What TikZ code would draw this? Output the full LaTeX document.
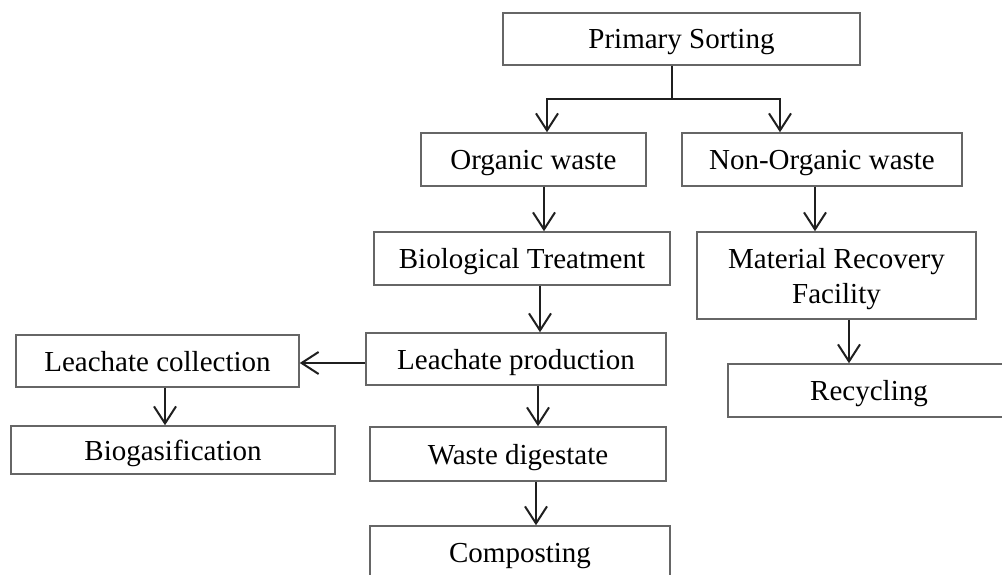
\documentclass[tikz,border=0pt]{standalone}
\usepackage{fontspec}
\setmainfont{Liberation Serif}
\usetikzlibrary{arrows.meta}
\begin{document}
\begin{tikzpicture}[x=1pt,y=-1pt,
  box/.style={draw=black!60, line width=1.5pt, inner sep=0pt, align=center,
    text depth=0pt, font=\fontsize{29}{35}\selectfont},
  arr/.style={line width=2pt, draw=black!88, -{Straight Barb[length=17pt,width=22pt]}},
  ln/.style={line width=2pt, draw=black!88}]
\useasboundingbox (0,0) rectangle (1002,575);
\clip (0,0) rectangle (1002,575);
\fill[white] (0,0) rectangle (1002,575);
\node[box, minimum width=357pt, minimum height=52pt] (ps) at (681.5,39) {Primary Sorting};
\node[box, minimum width=225pt, minimum height=53pt] (org) at (533.5,159.5) {Organic waste};
\node[box, minimum width=280pt, minimum height=53pt] (non) at (822,159.5) {Non-Organic waste};
\node[box, minimum width=296pt, minimum height=53pt] (bio) at (522,258.5) {Biological Treatment};
\node[box, minimum width=279pt, minimum height=87pt] (mrf) at (836.5,275.5) {Material Recovery\\Facility};
\node[box, minimum width=300pt, minimum height=52pt] (lp) at (516,359) {Leachate production};
\node[box, minimum width=283pt, minimum height=52pt] (lc) at (157.5,361) {Leachate collection};
\node[box, minimum width=282pt, minimum height=53pt] (rec) at (869,390.5) {Recycling};
\node[box, minimum width=324pt, minimum height=48pt] (bg) at (173,450) {Biogasification};
\node[box, minimum width=296pt, minimum height=54pt] (wd) at (518,454) {Waste digestate};
\node[box, minimum width=300pt, minimum height=54pt] (comp) at (520,553) {Composting};
\coordinate (fork) at (672,99);
\draw[ln] (ps.south -| fork) -- (fork);
\draw[arr] (fork) -| ([xshift=13.5pt]org.north);
\draw[arr] (fork) -| ([xshift=-42pt]non.north);
\draw[arr] ([xshift=10.5pt]org.south) -- ([xshift=10.5pt]org.south |- bio.north);
\draw[arr] ([xshift=18pt]bio.south) -- ([xshift=18pt]bio.south |- lp.north);
\draw[arr] ([xshift=22pt]lp.south) -- ([xshift=22pt]lp.south |- wd.north);
\draw[arr] ([xshift=18pt]wd.south) -- ([xshift=18pt]wd.south |- comp.north);
\draw[arr] ([yshift=-4pt]lp.west) -- ([yshift=-4pt]lp.west -| lc.east);
\draw[arr] ([xshift=7.5pt]lc.south) -- ([xshift=7.5pt]lc.south |- bg.north);
\draw[arr] ([xshift=-7pt]non.south) -- ([xshift=-7pt]non.south |- mrf.north);
\draw[arr] ([xshift=12.5pt]mrf.south) -- ([xshift=12.5pt]mrf.south |- rec.north);
\end{tikzpicture}
\end{document}
